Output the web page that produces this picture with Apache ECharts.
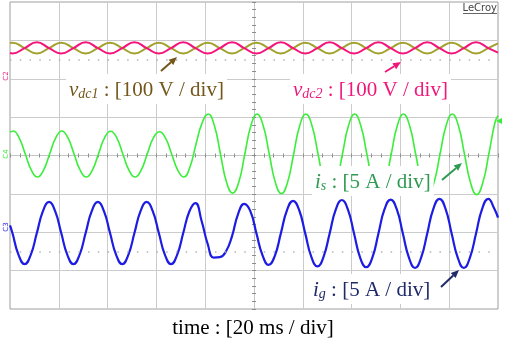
<!DOCTYPE html>
<html><head><meta charset="utf-8">
<script src="https://cdn.jsdelivr.net/npm/echarts@6/dist/echarts.min.js"></script>
<style>html,body{margin:0;padding:0;background:#fff}#c{width:505px;height:339px}</style>
</head><body><div id="c"></div>
<script>
// ---- data (time in ms, 20 ms/div; amplitudes in screen divisions) ----
const refLevels = [2.5, -2.5];

const vdcT = [0,1,6,11,16,21,26,31,36,41,46,51,56,61,66,71,76,81,86,91,96,101,106,111,116,121,126,131,136,141,146,151,156,161,166,171,176,181,186,191,196,200];
const vdc1Val = [2.93,2.94,2.80,2.66,2.80,2.94,2.80,2.66,2.80,2.94,2.80,2.66,2.80,2.94,2.80,2.66,2.80,2.94,2.80,2.66,2.80,2.94,2.80,2.66,2.80,2.94,2.80,2.66,2.80,2.94,2.80,2.66,2.80,2.94,2.80,2.66,2.80,2.94,2.80,2.66,2.80,2.92];
const vdc2Val = [2.67,2.66,2.80,2.95,2.80,2.66,2.80,2.95,2.80,2.66,2.80,2.95,2.80,2.66,2.80,2.95,2.80,2.66,2.80,2.95,2.80,2.66,2.80,2.95,2.80,2.66,2.80,2.95,2.80,2.66,2.80,2.95,2.80,2.66,2.80,2.95,2.80,2.66,2.80,2.95,2.80,2.68];

const isT = [0,1.25,3.75,6.25,8.75,11.25,13.75,16.25,18.75,21.25,23.75,26.25,28.75,31.25,33.75,36.25,38.75,41.25,43.75,46.25,48.75,51.25,53.75,56.25,58.75,61.25,63.75,66.25,68.75,71.25,73.75,76.25,78.75,81.25,83.75,86.25,88.75,91.25,93.75,96.25,98.75,101.25,103.75,106.25,108.75,111.25,113.75,116.25,118.75,121.25,123.75,126.25,128.75,131.25,133.75,136.25,138.75,141.25,143.75,146.25,148.75,151.25,153.75,156.25,158.75,161.25,163.75,166.25,168.75,171.25,173.75,176.25,178.75,181.25,183.75,186.25,188.75,191.25,193.75,196.25,198.75,200];
const isVal = [0.60,
 0.64,0.46,0.04,-0.38,-0.56,-0.38,0.04,0.46,
 0.64,0.46,0.04,-0.38,-0.56,-0.38,0.04,0.46,
 0.63,0.46,0.04,-0.38,-0.56,-0.38,0.04,0.46,
 0.62,0.45,0.04,-0.38,-0.56,-0.30,0.30,0.85,
 1.08,0.78,0.04,-0.70,-0.98,-0.70,0.04,0.78,
 1.08,0.78,0.04,-0.70,-0.99,-0.70,0.04,0.78,
 1.08,0.78,0.04,-0.71,-1.00,-0.71,0.04,0.78,
 1.08,0.78,0.04,-0.71,-1.00,-0.71,0.04,0.78,
 1.08,0.78,0.04,-0.71,-1.01,-0.71,0.04,0.78,
 1.08,0.78,0.04,-0.71,-1.02,-0.71,0.04,0.86,
 1.04];

const igT = [0,1,3.5,6,8.5,11,13.5,16,18.5,21,23.5,26,28.5,31,33.5,36,38.5,41,43.5,46,48.5,51,53.5,56,58.5,61,63.5,66,68.5,71,73.5,76,78.5,81,83.5,86,88.5,91,93.5,96,98.5,101,103.5,106,108.5,111,113.5,116,118.5,121,123.5,126,128.5,131,133.5,136,138.5,141,143.5,146,148.5,151,153.5,156,158.5,161,163.5,166,168.5,171,173.5,176,178.5,181,183.5,186,188.5,191,193.5,196,198.5,200];
const igVal = [-1.82,
 -2.02,-2.59,-2.83,-2.59,-2.02,-1.45,-1.21,-1.45,
 -2.02,-2.59,-2.83,-2.59,-2.02,-1.45,-1.21,-1.45,
 -2.02,-2.59,-2.83,-2.59,-2.02,-1.45,-1.21,-1.45,
 -2.02,-2.59,-2.83,-2.59,-2.02,-1.46,-1.24,-1.70,
 -2.30,-2.66,-2.65,-2.50,-2.10,-1.52,-1.26,-1.45,
 -2.03,-2.60,-2.85,-2.62,-2.03,-1.43,-1.18,-1.42,
 -2.03,-2.64,-2.89,-2.64,-2.03,-1.41,-1.16,-1.41,
 -2.03,-2.66,-2.91,-2.66,-2.03,-1.40,-1.15,-1.40,
 -2.03,-2.66,-2.93,-2.66,-2.03,-1.39,-1.13,-1.39,
 -2.03,-2.66,-2.93,-2.66,-2.03,-1.39,-1.13,-1.39,
 -1.62];

function pairs(t, v) { return t.map((x, i) => [x, v[i]]); }

const SERIF = '"Liberation Serif","Times New Roman",serif';
const FS = 21;

function label(x, y, main, sub, rest, color, bg, align) {
  return {
    type: 'text', z: 100, x: x, y: y,
    style: {
      text: main ? '{v|' + main + '}{s|' + sub + '}{n|' + rest + '}' : '{n|' + rest + '}',
      align: align || 'left', verticalAlign: 'middle',
      backgroundColor: bg ? '#ffffff' : null,
      padding: bg ? [3, 3, 3, 3] : 0,
      rich: {
        v: {fontFamily: SERIF, fontSize: FS, fontStyle: 'italic', fill: color, lineHeight: 24, verticalAlign: 'bottom'},
        s: {fontFamily: SERIF, fontSize: 14, fontStyle: 'italic', fill: color, lineHeight: 13, verticalAlign: 'bottom'},
        n: {fontFamily: SERIF, fontSize: FS, fill: color, lineHeight: 24, verticalAlign: 'bottom'}
      }
    }
  };
}

function arrow(x1, y1, x2, y2, color) {
  const dx = x2 - x1, dy = y2 - y1, L = Math.hypot(dx, dy);
  const ux = dx / L, uy = dy / L, hl = 8, hw = 3.5;
  const bx = x2 - ux * hl, by = y2 - uy * hl;
  return [
    {type: 'line', z: 101, shape: {x1: x1, y1: y1, x2: bx, y2: by}, style: {stroke: color, lineWidth: 2}},
    {type: 'polygon', z: 101, shape: {points: [[x2, y2], [bx - uy * hw, by + ux * hw], [bx + uy * hw, by - ux * hw]]}, style: {fill: color}}
  ];
}

function chMark(x, y, txt, color) {
  return {type: 'text', z: 100, x: x, y: y, rotation: Math.PI / 2,
    style: {text: txt, fontSize: 7, fontFamily: 'DejaVu Sans', fill: color, align: 'center', verticalAlign: 'middle'}};
}

const tickStyle = {color: '#8c8c8c', width: 1};
const axisCommon = {
  type: 'value', axisLabel: {show: false}, splitLine: {show: false}
};

const option = {
  animation: false,
  grid: {left: 10, top: 2, width: 488, height: 307, show: true, borderColor: '#9e9e9e', borderWidth: 1, backgroundColor: '#fff'},
  xAxis: [
    Object.assign({}, axisCommon, {min: 0, max: 200, interval: 20, position: 'bottom',
      splitLine: {show: true, showMinLine: false, showMaxLine: false, lineStyle: {color: '#cbcbcb', width: 1}},
      axisLine: {show: true, onZero: true, lineStyle: {color: '#c4c4c4', width: 1}},
      axisTick: {show: true, inside: false, length: 2, lineStyle: tickStyle},
      minorTick: {show: true, splitNumber: 5, length: 2, lineStyle: tickStyle}}),
    Object.assign({}, axisCommon, {min: 0, max: 200, interval: 20, position: 'top',
      axisLine: {show: false, onZero: true},
      axisTick: {show: true, inside: false, length: 2, lineStyle: tickStyle},
      minorTick: {show: true, splitNumber: 5, length: 2, lineStyle: tickStyle}})
  ],
  yAxis: [
    Object.assign({}, axisCommon, {min: -4, max: 4, interval: 1, position: 'left',
      splitLine: {show: true, showMinLine: false, showMaxLine: false, lineStyle: {color: '#cbcbcb', width: 1}},
      axisLine: {show: false, onZero: false}, axisTick: {show: false}}),
    Object.assign({}, axisCommon, {min: -4, max: 4, interval: 1, position: 'right', offset: -244,
      axisLine: {show: true, onZero: false, lineStyle: {color: '#c4c4c4', width: 1}},
      axisTick: {show: true, inside: false, length: 2, lineStyle: tickStyle},
      minorTick: {show: true, splitNumber: 5, length: 2, lineStyle: tickStyle}}),
    Object.assign({}, axisCommon, {min: -4, max: 4, interval: 1, position: 'left', offset: -244,
      axisLine: {show: false, onZero: false},
      axisTick: {show: true, inside: false, length: 2, lineStyle: tickStyle},
      minorTick: {show: true, splitNumber: 5, length: 2, lineStyle: tickStyle}})
  ],
  series: [
    {type: 'line', name: 'vdc1', data: pairs(vdcT, vdc1Val), smooth: 0.5, showSymbol: false, silent: true,
     lineStyle: {color: '#a3a12e', width: 2}, z: 3,
     markLine: {silent: true, symbol: 'none', label: {show: false},
       lineStyle: {color: '#b4b4b4', type: [1.5, 8.26], width: 1.5},
       data: refLevels.map(v => ({yAxis: v}))}},
    {type: 'line', name: 'vdc2', data: pairs(vdcT, vdc2Val), smooth: 0.5, showSymbol: false, silent: true,
     lineStyle: {color: '#f5157a', width: 2}, z: 4},
    {type: 'line', name: 'is', data: pairs(isT, isVal), smooth: 0.5, showSymbol: false, silent: true,
     lineStyle: {color: '#3aee3a', width: 1.6}, z: 4},
    {type: 'line', name: 'ig', data: pairs(igT, igVal), smooth: 0.5, showSymbol: false, silent: true,
     lineStyle: {color: '#1c1ce2', width: 2.2}, z: 4}
  ],
  graphic: [].concat(
    [label(66, 89, 'v', 'dc1', ' : [100 V / div]', '#73561a', true),
     label(290, 89, 'v', 'dc2', ' : [100 V / div]', '#f0177b', true),
     label(312, 181, 'i', 's', ' : [5 A / div]', '#2f9a52', true),
     label(310, 289, 'i', 'g', ' : [5 A / div]', '#1f2a6a', true),
     label(253, 327, null, null, 'time : [20 ms / div]', '#000000', false, 'center'),
     {type: 'text', z: 100, x: 497, y: 8, style: {text: 'LeCroy', fontSize: 10, fontFamily: 'DejaVu Sans', fill: '#444', align: 'right', verticalAlign: 'middle'}},
     {type: 'line', z: 100, shape: {x1: 463, y1: 13.5, x2: 497, y2: 13.5}, style: {stroke: '#666', lineWidth: 1}},
     chMark(6, 76, 'C2', '#f0177b'),
     chMark(6, 154, 'C4', '#3aee3a'),
     chMark(6, 227, 'C3', '#1c1ce2'),
     {type: 'polygon', z: 100, shape: {points: [[496, 121], [502, 118], [502, 124]]}, style: {fill: '#3aee3a'}}],
    arrow(161, 71, 177, 57, '#73561a'),
    arrow(385, 72, 401, 62, '#f0177b'),
    arrow(442, 180, 462, 163, '#2f9a52'),
    arrow(441, 287, 459, 270, '#1f2a6a')
  )
};

const chart = echarts.init(document.getElementById('c'), null, {renderer: 'canvas'});
chart.setOption(option);
</script>
</body></html>
